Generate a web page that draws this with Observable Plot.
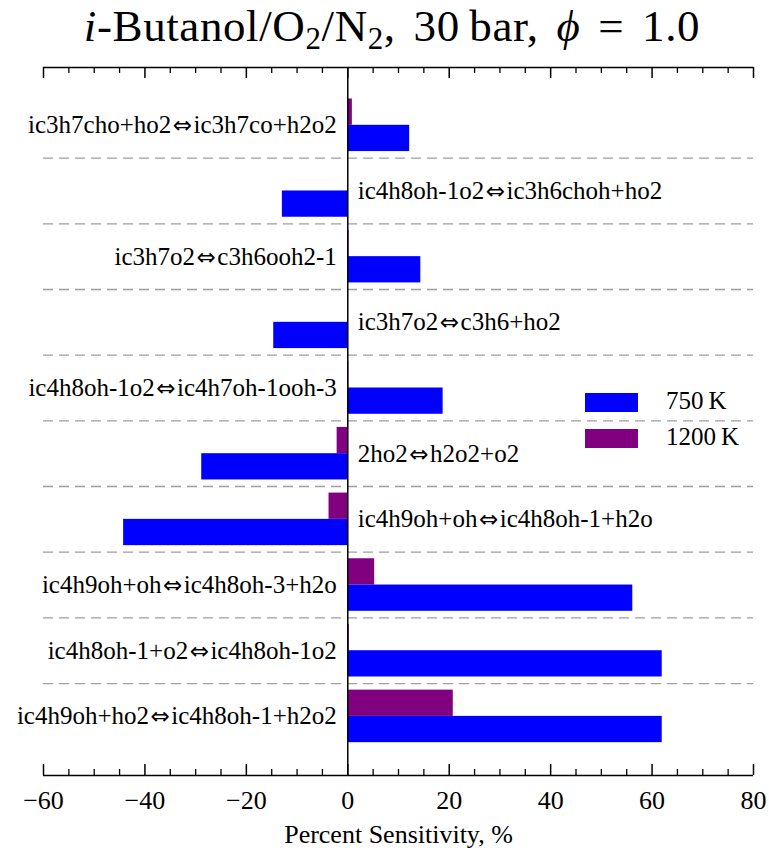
<!DOCTYPE html>
<html>
<head>
<meta charset="utf-8">
<script src="https://cdn.jsdelivr.net/npm/d3@7"></script>
<script src="https://cdn.jsdelivr.net/npm/@observablehq/plot@0.6"></script>
<style>
  body { margin: 0; background: #fff; }
  #wrap { position: relative; width: 769px; height: 854px; font-family: "Liberation Serif", "DejaVu Sans", serif; color: #000; }
  #title { height: 50px; box-sizing: border-box; padding-top: 4px; padding-left: 15px; text-align: center;
           font-size: 45px; line-height: 45px; white-space: nowrap; word-spacing: 6px; letter-spacing: 0.6px; }
  #title sub { font-size: 31px; line-height: 0; vertical-align: -8px; }
  .leg { position: absolute; left: 585px; width: 53px; height: 19px; }
  .legt { position: absolute; left: 666px; font-size: 25px; line-height: 25px; white-space: nowrap; }
</style>
</head>
<body>
<div id="wrap">
  <div id="title"><i>i</i>-Butanol/O<sub>2</sub>/N<sub>2</sub>, 30&#8201;bar, <i>&#981;</i> = 1.0</div>
  <div id="chart"></div>
  <div id="legend"></div>
</div>
<script>
// ---- data (top to bottom) ----
const categories = [
  "ic3h7cho+ho2⇔ic3h7co+h2o2",
  "ic4h8oh-1o2⇔ic3h6choh+ho2",
  "ic3h7o2⇔c3h6ooh2-1",
  "ic3h7o2⇔c3h6+ho2",
  "ic4h8oh-1o2⇔ic4h7oh-1ooh-3",
  "2ho2⇔h2o2+o2",
  "ic4h9oh+oh⇔ic4h8oh-1+h2o",
  "ic4h9oh+oh⇔ic4h8oh-3+h2o",
  "ic4h8oh-1+o2⇔ic4h8oh-1o2",
  "ic4h9oh+ho2⇔ic4h8oh-1+h2o2"
];
const sens750  = [12.2, -12.9, 14.4, -14.6, 18.8, -28.8, -44.2, 56.2, 62.0, 62.0];
const sens1200 = [0.9, 0.0, 0.25, 0.0, 0.2, -2.1, -3.7, 5.3, 0.3, 20.8];
const seriesNames = ["750\u2009K", "1200\u2009K"];
const seriesColors = ["#0000ff", "#800080"];
const xMajorTicks = [-60, -40, -20, 0, 20, 40, 60, 80];
const xMinorTicks = [-55, -50, -45, -35, -30, -25, -15, -10, -5, 5, 10, 15, 25, 30, 35, 45, 50, 55, 65, 70, 75];
const xLabel = "Percent Sensitivity, %";

// ---- derived table ----
const rows = categories.map((name, i) => ({name, i, v750: sens750[i], v1200: sens1200[i]}));
const separators = categories.slice(1).map((_, i) => i + 0.5);
const yDomain = [-0.88, 9.9];
const W = 769, H = 804, mL = 43, mR = 16, mT = 17, mB = 79;
const frameH = H - mT - mB;
const FONT = "Liberation Serif, DejaVu Sans, serif";
const fmt = d => d < 0 ? "\u2212" + Math.abs(d) : String(d);

const chart = Plot.plot({
  width: W, height: H,
  marginLeft: mL, marginRight: mR, marginTop: mT, marginBottom: mB,
  x: {domain: [-60, 80], axis: null},
  y: {domain: yDomain, reverse: true, axis: null},
  style: {fontFamily: FONT, background: "white", color: "black"},
  marks: [
    Plot.ruleY(separators, {stroke: "#a0a0a0", strokeWidth: 1.3, strokeDasharray: "10,6"}),
    Plot.rect(rows, {x1: 0, x2: "v1200", y1: d => d.i - 0.4, y2: "i", fill: seriesColors[1]}),
    Plot.rect(rows, {x1: 0, x2: "v750", y1: "i", y2: d => d.i + 0.4, fill: seriesColors[0]}),
    Plot.ruleX([0], {stroke: "black", strokeWidth: 1.5}),
    Plot.ruleY(yDomain, {stroke: "black", strokeWidth: 1.5}),
    Plot.ruleX(xMajorTicks, {stroke: "black", strokeWidth: 1.5, insetTop: frameH - 11}),
    Plot.ruleX(xMajorTicks, {stroke: "black", strokeWidth: 1.5, insetBottom: frameH - 11}),
    Plot.ruleX(xMinorTicks, {stroke: "black", strokeWidth: 1.3, insetTop: frameH - 6}),
    Plot.ruleX(xMinorTicks, {stroke: "black", strokeWidth: 1.3, insetBottom: frameH - 6}),
    Plot.text(rows.filter(d => d.v750 >= 0), {x: 0, y: "i", text: "name", textAnchor: "end", dx: -11,
      fontSize: 25, fontFamily: FONT, lineAnchor: "middle", fill: "black"}),
    Plot.text(rows.filter(d => d.v750 < 0), {x: 0, y: "i", text: "name", textAnchor: "start", dx: 10,
      fontSize: 25, fontFamily: FONT, lineAnchor: "middle", fill: "black"}),
    Plot.axisX({ticks: xMajorTicks, tickSize: 0, tickPadding: 15, fontSize: 26, fontFamily: FONT, tickFormat: fmt, label: null}),
    Plot.text([xLabel], {frameAnchor: "bottom", dy: 59, fontSize: 26, fontFamily: FONT, lineAnchor: "middle", fill: "black"})
  ]
});
document.getElementById("chart").appendChild(chart);

// render the ⇔ glyph from DejaVu Sans (wider double arrow, like the reference)
const SVGNS = "http://www.w3.org/2000/svg";
chart.querySelectorAll("text").forEach(t => {
  const s = t.textContent;
  if (!s.includes("⇔")) return;
  const parts = s.split("⇔");
  while (t.firstChild) t.removeChild(t.firstChild);
  parts.forEach((p, k) => {
    if (k > 0) {
      const a = document.createElementNS(SVGNS, "tspan");
      a.setAttribute("font-family", "DejaVu Sans");
      a.setAttribute("font-size", "23");
      a.setAttribute("dx", "1.5");
      a.textContent = "⇔";
      t.appendChild(a);
      const b = document.createElementNS(SVGNS, "tspan");
      b.setAttribute("dx", "1.5");
      b.textContent = p;
      t.appendChild(b);
    } else {
      t.appendChild(document.createTextNode(p));
    }
  });
});

// legend (inside plot area, upper right)
const leg = document.getElementById("legend");
const legTops = [393, 429];
seriesNames.forEach((name, k) => {
  const sw = document.createElement("div");
  sw.className = "leg";
  sw.style.top = legTops[k] + "px";
  sw.style.background = seriesColors[k];
  leg.appendChild(sw);
  const t = document.createElement("div");
  t.className = "legt";
  t.style.top = (legTops[k] - 5) + "px";
  t.textContent = name;
  leg.appendChild(t);
});
</script>
</body>
</html>
